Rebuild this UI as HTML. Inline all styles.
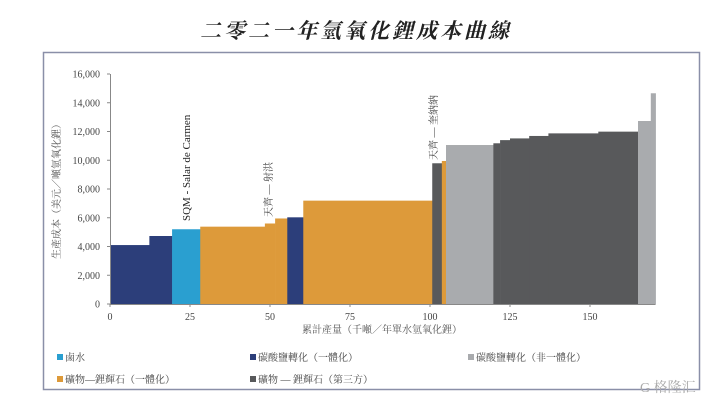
<!DOCTYPE html>
<html><head><meta charset="utf-8"><style>
body{margin:0;background:#fff;width:712px;height:402px;overflow:hidden;font-family:"Liberation Serif","Noto Serif CJK SC",serif;}
svg text{font-family:"Liberation Serif","Noto Serif CJK SC",serif;}
</style></head><body>
<svg id="c" width="712" height="402">
<text x="356" y="38" text-anchor="middle" font-size="21" font-weight="bold" font-style="italic" fill="#222" letter-spacing="3">二零二一年氫氧化鋰成本曲線</text>
<rect x="43.5" y="52.5" width="656" height="337" fill="none" stroke="#8a8fa8" stroke-width="1.5"/>
<g id="bars"></g>
<g id="axes"></g>
<text transform="translate(60,189) rotate(-90)" text-anchor="middle" font-size="10" fill="#555">生產成本（美元／噸氫氧化鋰）</text>
<text x="382" y="333" text-anchor="middle" font-size="10" fill="#555">累計產量（千噸／年單水氫氧化鋰）</text>
<text transform="translate(190,221) rotate(-90)" font-size="11" fill="#222">SQM - Salar de Carmen</text>
<text transform="translate(272,217) rotate(-90)" font-size="10" fill="#444">天齊 — 射洪</text>
<text transform="translate(437,160) rotate(-90)" font-size="10" fill="#444">天齊 — 奎納納</text>
<g font-size="10" fill="#444">
<rect x="57" y="354" width="6" height="6" fill="#2a9fd0"/><text x="65" y="361">鹵水</text>
<rect x="250" y="354" width="6" height="6" fill="#2c3e7a"/><text x="258" y="361">碳酸鹽轉化（一體化）</text>
<rect x="468" y="354" width="6" height="6" fill="#a9abae"/><text x="476" y="361">碳酸鹽轉化（非一體化）</text>
<rect x="57" y="376" width="6" height="6" fill="#dd9a3a"/><text x="65" y="383">礦物—鋰輝石（一體化）</text>
<rect x="250" y="376" width="6" height="6" fill="#58595b"/><text x="258" y="383">礦物 — 鋰輝石（第三方）</text>
</g>
<text x="640" y="392" font-size="14" fill="#aaa" font-family="Liberation Sans,Noto Sans CJK SC,sans-serif">G 格隆汇</text>
</svg>
<script>
const starts=[0,12.3,19.4,28.2,48.4,51.6,55.4,60.4,100.7,103.7,105,119.8,121.9,125,131,137,152.6,165,169];
const ends=[12.3,19.4,28.2,48.4,51.6,55.4,60.4,100.7,103.7,105,119.8,121.9,125,131,137,152.6,165,169,170.5];
const costs=[4100,4730,5200,5380,5600,5950,6030,7190,9790,9950,11060,11180,11400,11520,11690,11870,11990,12730,14660];
const cats=["cbi","cbi","brine","spi","spi","spi","cbi","spi","sp3","spi","cbn","sp3","sp3","sp3","sp3","sp3","sp3","cbn","cbn"];
const yTicks=[0,2000,4000,6000,8000,10000,12000,14000,16000];
const xTicks=[0,25,50,75,100,125,150];
const colors={brine:"#2a9fd0",cbi:"#2c3e7a",cbn:"#a9abae",spi:"#dd9a3a",sp3:"#58595b"};
const X=v=>110+v*3.2, Y=v=>304-v*230/16000;
const NS="http://www.w3.org/2000/svg";
const bars=document.getElementById('bars'),axes=document.getElementById('axes');
for(let i=0;i<costs.length;i++){
 const r=document.createElementNS(NS,'rect');
 r.setAttribute('x',X(starts[i]));r.setAttribute('width',X(ends[i])-X(starts[i])+0.3);
 r.setAttribute('y',Y(costs[i]));r.setAttribute('height',Y(0)-Y(costs[i]));
 r.setAttribute('fill',colors[cats[i]]);
 
 
 bars.appendChild(r);
}
function ln(x1,y1,x2,y2){const l=document.createElementNS(NS,'line');l.setAttribute('x1',x1);l.setAttribute('y1',y1);l.setAttribute('x2',x2);l.setAttribute('y2',y2);l.setAttribute('stroke','#888');l.setAttribute('stroke-width','1');axes.appendChild(l);return l;}
function tx(x,y,s,a){const t=document.createElementNS(NS,'text');t.setAttribute('x',x);t.setAttribute('y',y);t.setAttribute('text-anchor',a);t.setAttribute('font-size','10');t.setAttribute('fill','#444');t.textContent=s;axes.appendChild(t);return t;}
const ya=ln(110.5,Y(16000),110.5,Y(0));
const xa=ln(110,Y(0)+0.5,X(170.5),Y(0)+0.5);
yTicks.forEach(v=>{ln(107,Y(v),110,Y(v));const t=tx(100,Y(v)+3.5,v.toLocaleString('en-US'),'end');
 
 });
xTicks.forEach(v=>{ln(X(v),Y(0),X(v),Y(0)+3);const t=tx(X(v),Y(0)+16,String(v),'middle');
 
 });
</script>
</body></html>
